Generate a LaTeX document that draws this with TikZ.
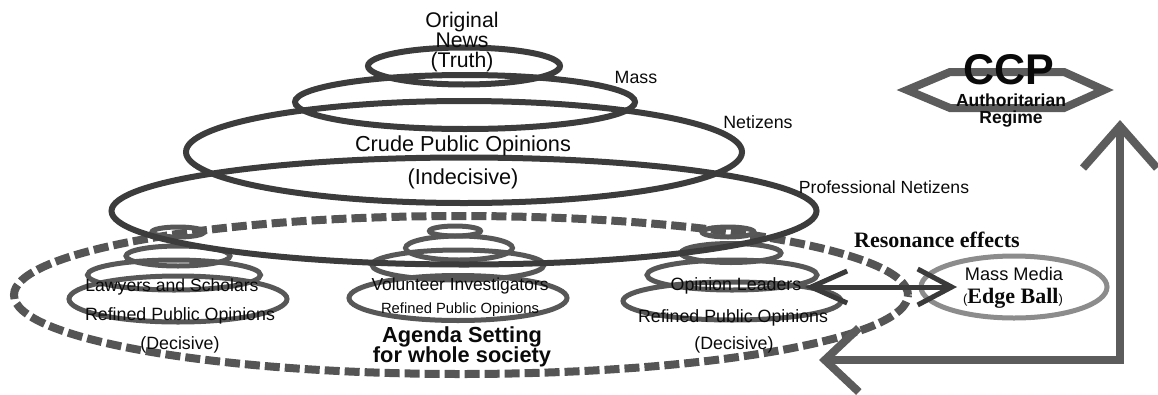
\documentclass[tikz,border=0pt]{standalone}
\usepackage{fontspec}
\setmainfont{Liberation Sans}
\newfontfamily\serifb{Liberation Serif}
\usetikzlibrary{shapes.geometric,arrows.meta}
\definecolor{maincol}{HTML}{3C3C3C}
\definecolor{subcol}{HTML}{575757}
\definecolor{dashcol}{HTML}{555555}
\definecolor{mediacol}{HTML}{8C8C8C}
\definecolor{bigarrow}{HTML}{5C5C5C}
\definecolor{dblcol}{HTML}{3A3A3A}
\definecolor{txtcol}{HTML}{0A0A0A}
\newcommand\fsz[1]{\fontsize{#1}{#1}\selectfont}
\tikzset{
  mainell/.style={draw=maincol, line width=6pt, ellipse, inner sep=0pt},
  subell/.style={draw=subcol, line width=5pt, ellipse, inner sep=0pt},
  dashell/.style={draw=dashcol, line width=8pt, ellipse, inner sep=0pt, dash pattern=on 15pt off 5pt},
  mediaell/.style={draw=mediacol, line width=5pt, ellipse, inner sep=0pt},
  lbl/.style={inner sep=0pt, anchor=base, text=txtcol},
  dblarrow/.style={draw=dblcol, line width=5pt, {Straight Barb[length=36pt,width=32pt]}-{Straight Barb[length=34pt,width=36pt]}},
  lshape/.style={draw=bigarrow, line width=8pt, line join=miter, {Straight Barb[length=34pt,width=64pt]}-{Straight Barb[length=42pt,width=74pt]}},
  hexline/.style={draw=bigarrow, line width=8pt, line join=miter}
}
\begin{document}
\begin{tikzpicture}[x=1pt,y=-1pt]
\useasboundingbox (0,0) rectangle (1158,394);

% dashed agenda ellipse
\node[dashell, minimum width=894pt, minimum height=158pt] (agenda) at (461,295) {};

% group 1
\node[subell, minimum width=52pt, minimum height=10pt] (g1a) at (178,232) {};
\node[subell, minimum width=104pt, minimum height=20pt] (g1b) at (178,256) {};
\node[subell, minimum width=173pt, minimum height=30pt] (g1c) at (174,275) {};
\node[subell, minimum width=218pt, minimum height=46pt] (g1d) at (178,299) {};
% group 2
\node[subell, minimum width=51pt, minimum height=10pt] (g2a) at (455,231) {};
\node[subell, minimum width=107pt, minimum height=24pt] (g2b) at (459,248) {};
\node[subell, minimum width=172pt, minimum height=30pt] (g2c) at (458,265) {};
\node[subell, minimum width=218pt, minimum height=45pt] (g2d) at (458,298) {};
% group 3
\node[subell, minimum width=52pt, minimum height=10pt] (g3a) at (728,232) {};
\node[subell, minimum width=100pt, minimum height=19pt] (g3b) at (731,253) {};
\node[subell, minimum width=170pt, minimum height=30pt] (g3c) at (732,275) {};
\node[subell, minimum width=218pt, minimum height=38pt] (g3d) at (732,301) {};

% main pyramid
\node[mainell, minimum width=192pt, minimum height=37pt] (truth) at (464,66) {};
\node[mainell, minimum width=340pt, minimum height=54pt] (mass) at (465,102) {};
\node[mainell, minimum width=556pt, minimum height=102pt] (netz) at (464,152) {};
\node[mainell, minimum width=705pt, minimum height=107pt] (prof) at (464,211) {};

% main labels
\node[lbl, font=\fsz{21.2}] (t1) at (462,27) {Original};
\node[lbl, font=\fsz{21.2}] (t2) at (462,47) {News};
\node[lbl, font=\fsz{21.2}] (t3) at (462,67) {(Truth)};
\node[lbl, font=\fsz{17.8}] (lmass) at (636,83) {Mass};
\node[lbl, font=\fsz{17.8}] (lnetz) at (758,128) {Netizens};
\node[lbl, font=\fsz{21.7}] (crude) at (463,151) {Crude Public Opinions};
\node[lbl, font=\fsz{21.7}] (indec) at (463,184) {(Indecisive)};
\node[lbl, font=\fsz{17.6}] (lprof) at (884,193) {Professional Netizens};

% group labels
\node[lbl, font=\fsz{17.6}] (law) at (172,291) {Lawyers and Scholars};
\node[lbl, font=\fsz{17.8}] (ref1) at (180,320) {Refined Public Opinions};
\node[lbl, font=\fsz{17.8}] (dec1) at (180,349) {(Decisive)};
\node[lbl, font=\fsz{17.4}] (vol) at (460,290) {Volunteer Investigators};
\node[lbl, font=\fsz{14.8}] (ref2) at (460,313) {Refined Public Opinions};
\node[lbl, font=\bfseries\fsz{21.8}] (ag1) at (462,342) {Agenda Setting};
\node[lbl, font=\bfseries\fsz{21.8}] (ag2) at (462,362) {for whole society};
\node[lbl, font=\fsz{17.8}] (ol) at (736,290) {Opinion Leaders};
\node[lbl, font=\fsz{17.8}] (ref3) at (733,322) {Refined Public Opinions};
\node[lbl, font=\fsz{17.8}] (dec3) at (734,349) {(Decisive)};

% mass media
\node[mediaell, minimum width=186pt, minimum height=62pt] (media) at (1014,287) {};
\node[lbl, font=\fsz{18.2}] (mm1) at (1014,280) {Mass Media};
\node[lbl] (mm2) at (1013,303) {{\fsz{13}(}{\serifb\bfseries\fsz{22}Edge Ball}{\fsz{13})}};
\node[lbl, font=\serifb\bfseries\fsz{22}] (reso) at (937,247) {Resonance effects};

% double arrow
\coordinate (dl) at (805,287);
\coordinate (dr) at (957,287);
\draw[dblarrow] (dl) -- (dr);

% CCP hexagon
\coordinate (h1) at (907,90);
\coordinate (h2) at (950,72);
\coordinate (h3) at (1064,72);
\coordinate (h4) at (1104,90);
\coordinate (h5) at (1064,108);
\coordinate (h6) at (950,108);
\draw[hexline] (h1) -- (h2) -- (h3) -- (h4) -- (h5) -- (h6) -- cycle;
\node[lbl, font=\bfseries\fsz{43}] (ccp) at (1009,84) {CCP};
\node[lbl, font=\bfseries\fsz{17.5}] (auth) at (1011,106.5) {Authoritarian};
\node[lbl, font=\bfseries\fsz{17.5}] (reg) at (1011,123) {Regime};

% L-shaped feedback arrow
\coordinate (Lb) at (819,360);
\coordinate (Lc) at (1120,360);
\coordinate (Lt) at (1120,120);
\draw[lshape] (Lb) -- (Lc) -- (Lt);
\end{tikzpicture}
\end{document}
